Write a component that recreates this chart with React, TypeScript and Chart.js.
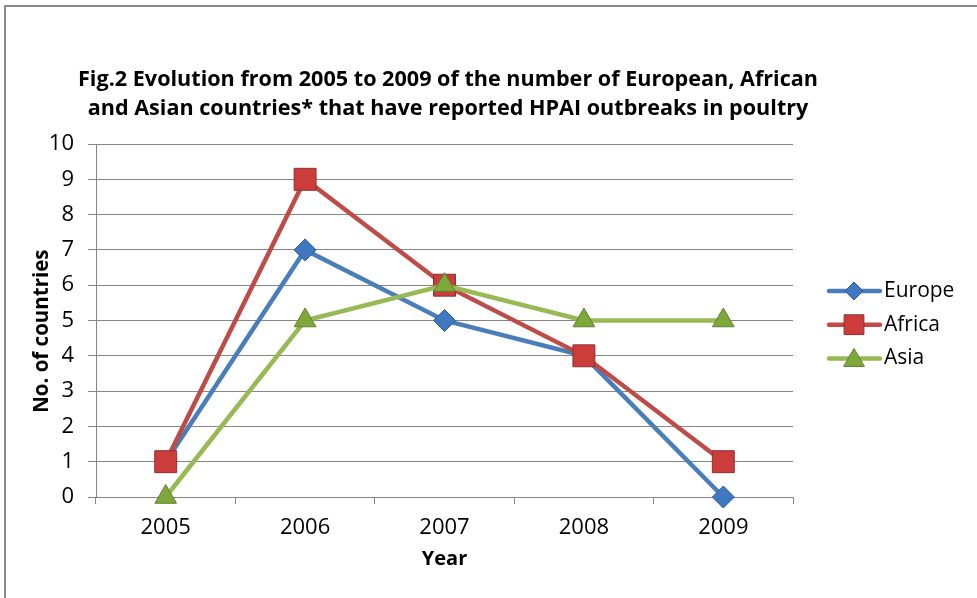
import React, { useEffect, useRef } from 'react';
import { Chart, registerables } from 'chart.js';

Chart.register(...registerables);

const years: string[] = ['2005', '2006', '2007', '2008', '2009'];
const europe: number[] = [1, 7, 5, 4, 0];
const africa: number[] = [1, 9, 6, 4, 1];
const asia: number[] = [0, 5, 6, 5, 5];
const seriesNames: string[] = ['Europe', 'Africa', 'Asia'];
const titleLines: string[] = [
  'Fig.2 Evolution from 2005 to 2009 of the number of European, African',
  'and Asian countries* that have reported HPAI outbreaks in poultry',
];
const xTitle = 'Year';
const yTitle = 'No. of countries';
const yMin = 0;
const yMax = 10;
const yStep = 1;

const FONT = '"Open Sans", "DejaVu Sans", sans-serif';

function drawMarker(ctx: CanvasRenderingContext2D, style: string, x: number, y: number, r: number) {
  ctx.beginPath();
  if (style === 'rectRot') {
    ctx.moveTo(x, y - r);
    ctx.lineTo(x + r, y);
    ctx.lineTo(x, y + r);
    ctx.lineTo(x - r, y);
  } else if (style === 'rect') {
    const h = r * Math.SQRT1_2;
    ctx.rect(x - h, y - h, 2 * h, 2 * h);
  } else {
    let a = 0;
    ctx.moveTo(x + Math.sin(a) * r, y - Math.cos(a) * r);
    a += (2 * Math.PI) / 3;
    ctx.lineTo(x + Math.sin(a) * r, y - Math.cos(a) * r);
    a += (2 * Math.PI) / 3;
    ctx.lineTo(x + Math.sin(a) * r, y - Math.cos(a) * r);
  }
  ctx.closePath();
  ctx.fill();
  ctx.stroke();
}

const decorPlugin = {
  id: 'decor',
  beforeDraw(chart: any) {
    const ctx: CanvasRenderingContext2D = chart.ctx;
    ctx.save();
    ctx.fillStyle = '#ffffff';
    ctx.fillRect(0, 0, chart.width, chart.height);
    ctx.strokeStyle = '#8a8a8a';
    ctx.lineWidth = 2;
    ctx.strokeRect(5, 6, chart.width + 50, chart.height + 50);
    ctx.restore();
  },
  afterDraw(chart: any) {
    const ctx: CanvasRenderingContext2D = chart.ctx;
    ctx.save();
    // Title
    ctx.font = `bold 21px ${FONT}`;
    ctx.fillStyle = '#000';
    const w = ctx.measureText(titleLines[0]).width;
    const sx = Math.min(1.2, 740 / w);
    const cx = 448;
    const ys = [80, 109];
    titleLines.forEach((line, i) => {
      ctx.save();
      ctx.translate(cx, ys[i]);
      ctx.scale(sx, 1);
      ctx.textAlign = 'center';
      ctx.textBaseline = 'middle';
      ctx.fillText(line, 0, 0);
      ctx.restore();
    });
    // Legend
    const legendRadii: Record<string, number> = { rectRot: 9, rect: 14, triangle: 12 };
    chart.data.datasets.forEach((ds: any, i: number) => {
      const y = 291 + i * 33.7;
      ctx.strokeStyle = ds.borderColor;
      ctx.lineWidth = 4.5;
      ctx.lineCap = 'round';
      ctx.beginPath();
      ctx.moveTo(829, y);
      ctx.lineTo(880, y);
      ctx.stroke();
      ctx.fillStyle = ds.pointBackgroundColor;
      ctx.strokeStyle = ds.pointBorderColor;
      ctx.lineWidth = 1;
      ctx.lineCap = 'butt';
      drawMarker(ctx, ds.pointStyle, 854, ds.pointStyle === 'triangle' ? y + 2 : y, legendRadii[ds.pointStyle]);
      ctx.fillStyle = '#000';
      ctx.font = `21px ${FONT}`;
      ctx.textAlign = 'left';
      ctx.textBaseline = 'middle';
      ctx.fillText(ds.label, 884, y);
    });
    ctx.restore();
  },
};

export default function App() {
  const canvasRef = useRef<HTMLCanvasElement | null>(null);

  useEffect(() => {
    if (!canvasRef.current) return;
    const chart = new Chart(canvasRef.current, {
      type: 'line',
      data: {
        labels: years,
        datasets: [
          {
            label: seriesNames[0],
            data: europe,
            borderColor: '#4a7ebb',
            borderWidth: 4.5,
            pointStyle: 'rectRot',
            pointRadius: 11,
            pointBackgroundColor: '#3f78c0',
            pointBorderColor: '#2f5d94',
            pointBorderWidth: 1,
            order: 3,
            tension: 0,
            clip: false,
          } as any,
          {
            label: seriesNames[1],
            data: africa,
            borderColor: '#be4b48',
            borderWidth: 4.5,
            pointStyle: 'rect',
            pointRadius: 15.5,
            pointBackgroundColor: '#cc3c3a',
            pointBorderColor: '#8c2f2d',
            pointBorderWidth: 1,
            order: 2,
            tension: 0,
            clip: false,
          } as any,
          {
            label: seriesNames[2],
            data: asia,
            borderColor: '#98b954',
            borderWidth: 4.5,
            pointStyle: 'triangle',
            pointRadius: 12.5,
            pointBackgroundColor: '#7fa83a',
            pointBorderColor: '#5f7f2c',
            pointBorderWidth: 1,
            order: 1,
            tension: 0,
            clip: false,
          } as any,
        ],
      },
      options: {
        responsive: false,
        animation: false,
        layout: { padding: { top: 144, right: 184, left: 0, bottom: 0 } },
        plugins: {
          legend: { display: false },
          title: { display: false },
          tooltip: { enabled: false },
        },
        scales: {
          x: {
            type: 'category',
            offset: true,
            grid: {
              offset: true,
              drawOnChartArea: false,
              drawTicks: true,
              tickLength: 7,
              color: '#868686',
            },
            border: { color: '#868686', width: 1 },
            ticks: { font: { family: FONT, size: 22 }, color: '#000', padding: 11 },
            title: {
              display: true,
              text: xTitle,
              font: { family: FONT, size: 20, weight: 'bold' },
              color: '#000',
              padding: { top: 0, bottom: 27 },
            },
            afterFit: (s: any) => {
              s.height = 101;
            },
          },
          y: {
            min: yMin,
            max: yMax,
            ticks: { stepSize: yStep, font: { family: FONT, size: 22 }, color: '#000', padding: 14 },
            grid: { color: '#868686', tickLength: 8 },
            border: { color: '#868686', width: 1 },
            title: {
              display: true,
              text: yTitle + '\u00a0\u00a0\u00a0\u00a0',
              font: { family: FONT, size: 20.5, weight: 'bold' },
              color: '#000',
              padding: { top: 30, bottom: 0 },
            },
            afterFit: (s: any) => {
              s.width = 96;
            },
          },
        },
      } as any,
      plugins: [decorPlugin],
    });
    return () => chart.destroy();
  }, []);

  return (
    <div style={{ position: 'absolute', left: 0, top: 0, width: 977, height: 598 }}>
      <canvas ref={canvasRef} width={977} height={598} style={{ display: 'block', width: 977, height: 598 }} />
    </div>
  );
}
